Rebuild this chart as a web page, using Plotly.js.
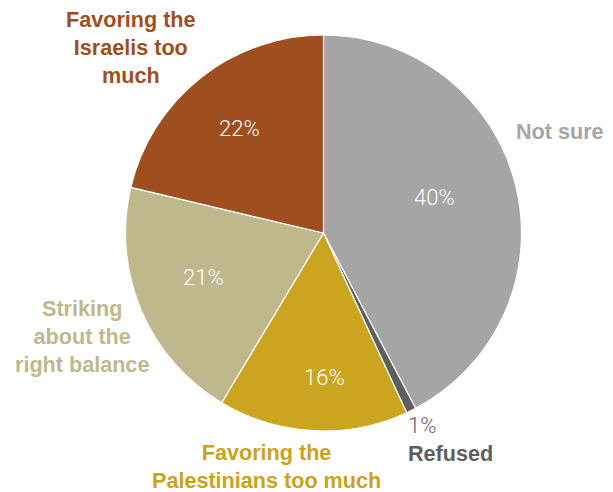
<!DOCTYPE html>
<html>
<head>
<meta charset="utf-8">
<script src="https://cdn.plot.ly/plotly-3.0.1.min.js"></script>
<style>html,body{margin:0;padding:0;background:#fff;}#chart{width:613px;height:492px;}</style>
</head>
<body>
<div id="chart"></div>
<script>
// Categories in drawing order (clockwise from 12 o'clock)
const categories = ["Not sure", "Refused", "Favoring the Palestinians too much", "Striking about the right balance", "Favoring the Israelis too much"];
// Slice shares as drawn in the picture (angles measured)
const sliceShares = [42.3, 0.8, 15.5, 20.1, 21.3];
// Percent labels printed on the chart
const pctLabels = ["40%", "1%", "16%", "21%", "22%"];
const sliceColors = ["#A5A5A5", "#5E5E5E", "#CBA51F", "#BFB88D", "#9E4E1F"];
const labelText = ["Not sure", "Refused", "Favoring the<br>Palestinians too much", "Striking<br>about the<br>right balance", "Favoring the<br>Israelis too<br>much"];

const W = 613, H = 492;
const boldFont = (c) => ({family: "Liberation Sans, Arial, sans-serif", size: 21.6, color: c, weight: 700});
const pctFont = (c) => ({family: "Roboto, Lato, sans-serif", size: 22, color: c, weight: 300});

const trace = {
  type: "pie",
  labels: categories,
  values: sliceShares,
  textinfo: "none",
  hoverinfo: "none",
  sort: false,
  direction: "clockwise",
  rotation: 0,
  marker: {colors: sliceColors, line: {color: "#ffffff", width: 1.2}},
  domain: {x: [125.5 / W, 521.5 / W], y: [1 - 431 / H, 1 - 35 / H]},
  showlegend: false
};

const ann = (txt, x, y, font, xanchor, align) => ({
  text: txt, x: x / W, y: 1 - y / H, xref: "paper", yref: "paper",
  xanchor: xanchor || "center", yanchor: "middle", align: align || "center", showarrow: false,
  font: font
});

const annotations = [
  // category names
  ann(labelText[4], 131, 48, boldFont(sliceColors[4])),
  ann(labelText[0], 560, 131, boldFont(sliceColors[0])),
  ann(labelText[3], 82, 336, boldFont(sliceColors[3])),
  ann(labelText[2], 266, 466, boldFont("#C9A31E")),
  ann(labelText[1], 406, 453, boldFont("#5E5E5E"), "left", "left"),
  // percent labels
  ann(pctLabels[0], 434, 197, pctFont("#ffffff")),
  ann(pctLabels[1], 406, 425, pctFont("#666666"), "left", "left"),
  ann(pctLabels[2], 324, 377, pctFont("#ffffff")),
  ann(pctLabels[3], 203, 277, pctFont("#ffffff")),
  ann(pctLabels[4], 239, 128, pctFont("#ffffff"))
];

const layout = {
  width: W, height: H,
  margin: {l: 0, r: 0, t: 0, b: 0},
  paper_bgcolor: "#ffffff",
  plot_bgcolor: "#ffffff",
  annotations: annotations,
  showlegend: false
};

Plotly.newPlot("chart", [trace], layout, {displayModeBar: false, staticPlot: true});
</script>
</body>
</html>
